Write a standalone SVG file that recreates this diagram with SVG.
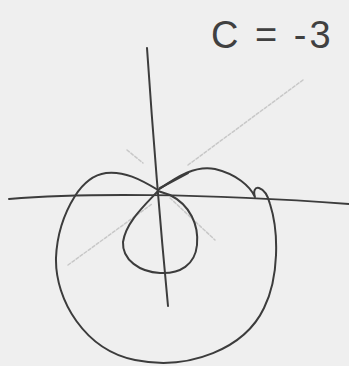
<svg xmlns="http://www.w3.org/2000/svg" width="349" height="366" viewBox="0 0 349 366">
<style>
.ink{fill:none;stroke:#3c3c3c;stroke-width:2;stroke-linecap:round;stroke-linejoin:round}
.faint{fill:none;stroke:#c8c8c8;stroke-width:1.5;stroke-dasharray:3 2;stroke-linecap:round}
.lbl{font-family:"Liberation Sans",Arial,sans-serif;font-size:38px;letter-spacing:3px;fill:#404040}
</style>
<rect width="349" height="366" fill="#efefef"/>
<g id="guides">
<path class="faint" d="M68 265 L152 204"/>
<path class="faint" d="M188 165 L303 80"/>
<path class="faint" d="M170 198 L215 240"/>
<path class="faint" d="M127 150 L143 163"/>
</g>
<g id="axes">
<path class="ink" d="M147 48 Q156 180 168 306"/>
<path class="ink" d="M9 199 C80 193 200 193 349 204"/>
</g>
<g id="curve">
<path class="ink" d="M158 190 C140 179 124 171 106 173 C92 175 82 185 75 196 C65 212 57 232 56 258 C55 300 85 350 135 360 C190 371 245 348 264 308 C279 278 279 232 270 204 C268 196 265 190 259 188 C255 187 253 191 255 197 C250 186 236 174 215 169 C196 165 178 176 158 190 Z"/>
<path class="ink" stroke-width="4.5" d="M160 188 L188 173"/>
<path class="ink" d="M158 191 C145 205 126 222 123 242 C122 260 140 272 160 273 C180 274 195 265 197 245 C199 225 190 205 170 195 Z"/>
</g>
<g id="label">
<text class="lbl" x="211" y="48">C = -3</text>
</g>
</svg>
